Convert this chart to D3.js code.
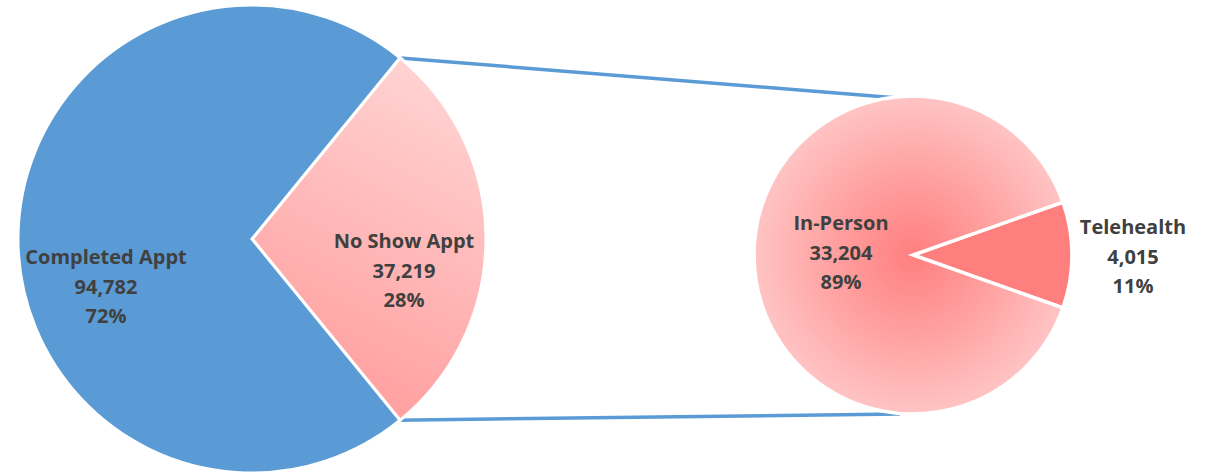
<!DOCTYPE html>
<html>
<head>
<meta charset="utf-8">
<script src="https://cdn.jsdelivr.net/npm/d3@7"></script>
<style>
  html, body { margin: 0; padding: 0; background: #fff; }
  svg { display: block; }
  .lbl { font-family: "Open Sans", Lato, sans-serif; font-weight: 700; fill: #404040; font-size: 20px; }
</style>
</head>
<body>
<svg id="chart" width="1212" height="474"></svg>
<script>
// Appointment outcomes (primary pie) and the split of no-shows (secondary pie)
const mainCategories = ["No Show Appt", "Completed Appt"];
const mainValues = [37219, 94782];
const subCategories = ["Telehealth", "In-Person"];
const subValues = [4015, 33204];

const svg = d3.select("#chart");

const main = { cx: 252, cy: 239, r: 234 };
const sub = { cx: 913, cy: 255, r: 159 };

const fmt = d3.format(",");
const pct = d3.format(".0%");

const defs = svg.append("defs");
// No-show wedge: light at the top, deeper pink toward the bottom (pie-local coords)
const lg = defs.append("linearGradient").attr("id", "noShowGrad")
  .attr("gradientUnits", "userSpaceOnUse")
  .attr("x1", 40).attr("y1", 190).attr("x2", 220).attr("y2", -170);
lg.append("stop").attr("offset", 0).attr("stop-color", "#ff9797");
lg.append("stop").attr("offset", 1).attr("stop-color", "#ffd6d6");

// In-person wedge: deep pink at the hub fading outward
const rg = defs.append("radialGradient").attr("id", "inPersonGrad")
  .attr("gradientUnits", "userSpaceOnUse")
  .attr("cx", 0).attr("cy", 0).attr("r", sub.r)
  .attr("fx", 0).attr("fy", 0);
rg.append("stop").attr("offset", 0).attr("stop-color", "#ff7f7f");
rg.append("stop").attr("offset", 0.5).attr("stop-color", "#ffa0a0");
rg.append("stop").attr("offset", 1).attr("stop-color", "#ffc4c4");

const mainFill = ["url(#noShowGrad)", "#5b9bd5"];
const subFill = ["#ff7f7f", "url(#inPersonGrad)"];

function centeredPie(values) {
  const total = d3.sum(values);
  const a = 2 * Math.PI * values[0] / total;
  return d3.pie().sort(null).startAngle(Math.PI / 2 - a / 2).endAngle(Math.PI / 2 - a / 2 + 2 * Math.PI)(values);
}

const mainArcs = centeredPie(mainValues);
const subArcs = centeredPie(subValues);

const mainArc = d3.arc().innerRadius(0).outerRadius(main.r);
const subArc = d3.arc().innerRadius(0).outerRadius(sub.r);

// Connector lines from the no-show wedge to the secondary pie
const ns = mainArcs[0];
const corner = a => [main.cx + main.r * Math.sin(a), main.cy - main.r * Math.cos(a)];
const top0 = corner(ns.startAngle), bot0 = corner(ns.endAngle);
svg.append("g").selectAll("line")
  .data([[top0, [sub.cx - 15, sub.cy - sub.r + 2]], [bot0, [sub.cx - 13, sub.cy + sub.r]]])
  .join("line")
  .attr("x1", d => d[0][0] - 3).attr("y1", d => d[0][1])
  .attr("x2", d => d[1][0]).attr("y2", d => d[1][1])
  .attr("stroke", "#5b9bd5").attr("stroke-width", 3.5);

const gMain = svg.append("g").attr("transform", `translate(${main.cx},${main.cy})`);
gMain.selectAll("path").data(mainArcs).join("path")
  .attr("d", mainArc)
  .attr("fill", (d, i) => mainFill[i])
  .attr("stroke", "#fff").attr("stroke-width", 3).attr("stroke-linejoin", "miter");

const gSub = svg.append("g").attr("transform", `translate(${sub.cx},${sub.cy})`);
gSub.selectAll("path").data(subArcs).join("path")
  .attr("d", subArc)
  .attr("fill", (d, i) => subFill[i])
  .attr("stroke", "#fff").attr("stroke-width", 3.5).attr("stroke-linejoin", "miter");

// Data labels: category, count, share
const mainTotal = d3.sum(mainValues), subTotal = d3.sum(subValues);
const labels = [
  { name: mainCategories[1], v: mainValues[1], p: mainValues[1] / mainTotal, x: 106, y: 257 },
  { name: mainCategories[0], v: mainValues[0], p: mainValues[0] / mainTotal, x: 404, y: 241 },
  { name: subCategories[1], v: subValues[1], p: subValues[1] / subTotal, x: 841, y: 223 },
  { name: subCategories[0], v: subValues[0], p: subValues[0] / subTotal, x: 1133, y: 227 }
];
const lineGap = 29.5;
const gl = svg.append("g");
labels.forEach(l => {
  const t = gl.append("text").attr("class", "lbl").attr("text-anchor", "middle");
  [l.name, fmt(l.v), pct(l.p)].forEach((s, i) => {
    t.append("tspan").attr("x", l.x).attr("y", l.y + i * lineGap).attr("dy", "0.35em").text(s);
  });
});
</script>
</body>
</html>
